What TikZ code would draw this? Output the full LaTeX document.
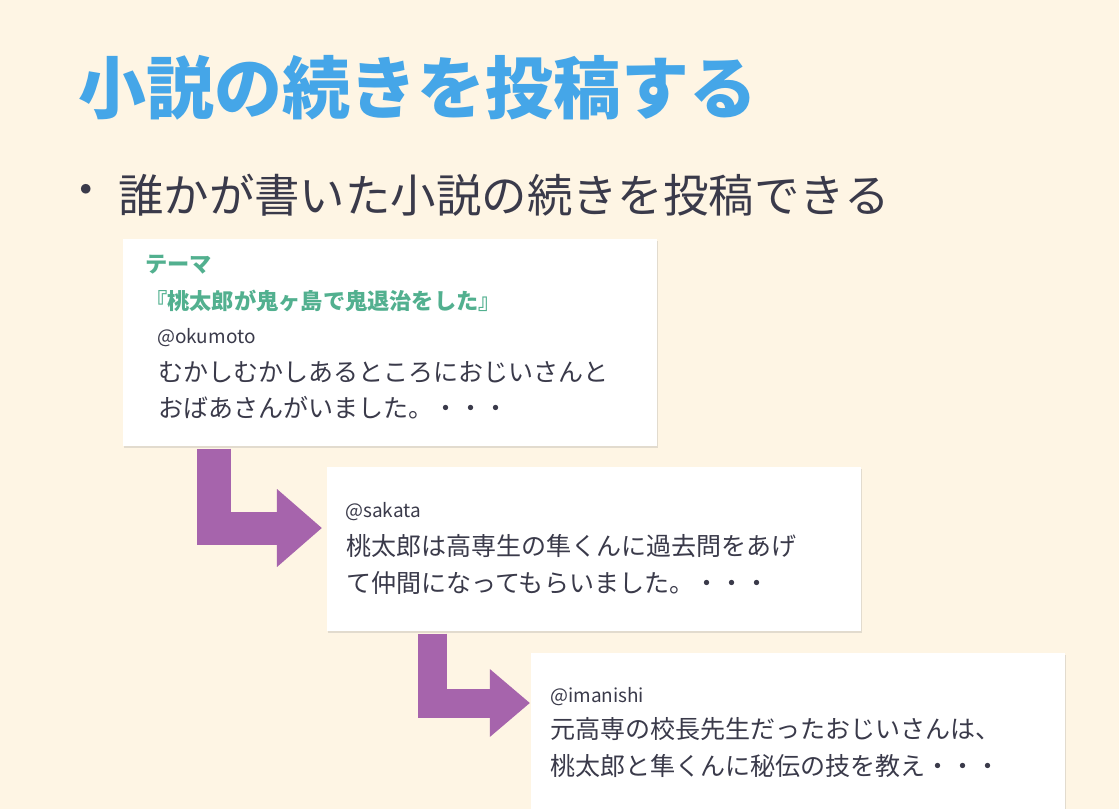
\documentclass[tikz,border=0pt]{standalone}
\usepackage{fontspec}
\setmainfont{Noto Sans CJK JP}
\usetikzlibrary{arrows.meta,calc,shadows}
\definecolor{Paper}{RGB}{254,245,228}
\definecolor{TitleBlue}{RGB}{69,166,232}
\definecolor{Ink}{RGB}{58,58,74}
\definecolor{ThemeGreen}{RGB}{82,176,143}
\definecolor{Grape}{RGB}{166,100,172}

\begin{document}
\begin{tikzpicture}[x=0.025cm,y=-0.025cm,
    card/.style={fill=white, inner sep=0, anchor=north west, minimum width=13.35cm,
      drop shadow={shadow xshift=0.4pt, shadow yshift=-1.2pt, opacity=0.22}},
    txt/.style={inner sep=0, anchor=west, text=Ink},
    handle/.style={txt, font=\fontsize{13.5}{16}\selectfont},
    body/.style={txt, font=\fontsize{17.8}{22}\selectfont},
    theme/.style={txt, text=ThemeGreen, font=\fontsize{15.8}{19}\selectfont\bfseries},
    flowarrow/.style={draw=Grape, line join=miter, line cap=butt}]
  \useasboundingbox (0,0) rectangle (1119,809);
  \fill[Paper] (0,0) rectangle (1119,809);

  % heading
  \node[inner sep=0, anchor=west, text=TitleBlue, font=\fontsize{48.3}{56}\selectfont\bfseries]
    (title) at (78,88) {小説の続きを投稿する};
  \node[inner sep=0, text=Ink, font=\fontsize{32.3}{38}\selectfont] (dot) at (86,195) {・};
  \node[txt, font=\fontsize{32.3}{38}\selectfont] (lead) at (118,195) {誰かが書いた小説の続きを投稿できる};

  % posts
  \node[card, minimum height=5.175cm] (card1) at (123,239) {};
  \node[card, minimum height=4.1cm] (card2) at (327,467) {};
  \node[card, minimum height=4.25cm] (card3) at (531,653) {};

  \node[theme] (themelabel) at ($(card1.north west)+(22,26)$) {テーマ};
  \node[theme] (themetitle) at ($(card1.north west)+(22,62)$) {『桃太郎が鬼ヶ島で鬼退治をした』};
  \node[handle] (user1) at ($(card1.north west)+(34,99)$) {@okumoto};
  \node[body] (c1a) at ($(card1.north west)+(35,133)$) {むかしむかしあるところにおじいさんと};
  \node[body] (c1b) at ($(card1.north west)+(35,169)$) {おばあさんがいました。・・・};

  \node[handle] (user2) at ($(card2.north west)+(18,45)$) {@sakata};
  \node[body] (c2a) at ($(card2.north west)+(19,79)$) {桃太郎は高専生の隼くんに過去問をあげ};
  \node[body] (c2b) at ($(card2.north west)+(19,116)$) {て仲間になってもらいました。・・・};

  \node[handle] (user3) at ($(card3.north west)+(19,44)$) {@imanishi};
  \node[body] (c3a) at ($(card3.north west)+(19,76)$) {元高専の校長先生だったおじいさんは、};
  \node[body] (c3b) at ($(card3.north west)+(19,113)$) {桃太郎と隼くんに秘伝の技を教え・・・};

  % continuation arrows
  \draw[flowarrow, line width=0.825cm, -{Triangle[length=1.125cm, width=1.875cm]}]
    ($(card1.south west)+(91,2)$) |- ($(card2.north west)+(-5,61)$);
  \draw[flowarrow, line width=0.725cm, -{Triangle[length=1cm, width=1.625cm]}]
    ($(card2.south west)+(105,2)$) |- ($(card3.north west)+(-1,50)$);
\end{tikzpicture}
\end{document}
